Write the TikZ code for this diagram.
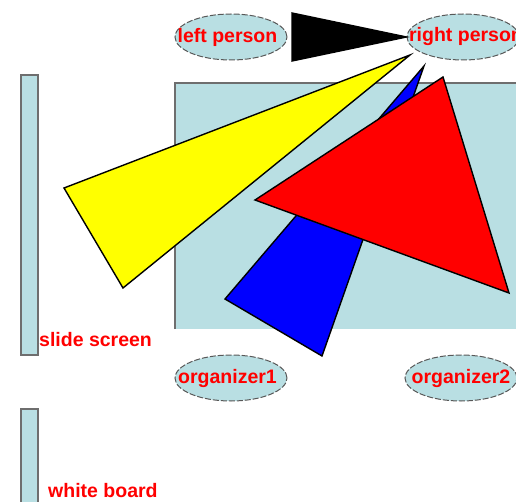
\documentclass[tikz,border=0pt]{standalone}
\usepackage{fontspec}
\setmainfont{Liberation Sans}
\usetikzlibrary{shapes.geometric}
\definecolor{tbl}{HTML}{B9DFE3}
\definecolor{rim}{HTML}{6E6E6E}
\definecolor{txt}{HTML}{FF0000}
\definecolor{ylw}{HTML}{FFFF00}
\begin{document}
\begin{tikzpicture}[x=1pt,y=-1pt,
 p/.style={ellipse,draw=rim!80!black,dashed,dash pattern=on 6pt off 2pt,line width=1pt,fill=tbl,
  minimum width=112pt,minimum height=46pt,inner sep=0pt,text=txt,font=\bfseries\fontsize{19.5}{20}\selectfont},
 lbl/.style={anchor=west,inner sep=0pt,text=txt,font=\bfseries\fontsize{19.5}{20}\selectfont},
 board/.style={draw=rim,line width=1.2pt,fill=tbl,minimum width=17pt,inner sep=0pt},
 beam/.style={draw=black,line width=1.4pt,line join=miter}]
\clip (0,0) rectangle (516,502);
\fill[white] (0,0) rectangle (516,502);
% room furniture
\node[fill=tbl,minimum width=355pt,minimum height=246pt,inner sep=0pt] (table) at (352.5,206) {};
\draw[rim,line width=1.6pt] (table.south west) -- (table.north west) -- (table.north east);
\node[board,minimum height=280pt] (screen) at (29.5,215) {};
\node[board,minimum height=110pt] (wboard) at (29.5,464) {};
\node[lbl] (screenlbl) at (39,340) {slide screen};
\node[lbl] (wboardlbl) at (48,491) {white board};
% people
\node[p] (lp) at (231,37) {\makebox[0pt]{\raisebox{-2pt}{left person}\hspace{7pt}}};
\node[p] (rp) at (463,37) {\makebox[0pt]{\raisebox{-2pt}{\hspace{6pt}right person}}};
\node[p] (o1) at (231,378) {\makebox[0pt]{\raisebox{-1pt}{organizer1}\hspace{7pt}}};
\node[p] (o2) at (461,378) {\makebox[0pt]{\raisebox{-1pt}{organizer2}}};
% gaze cones
\filldraw[beam,fill=black] (292,13) -- (292,61) -- (rp.west) -- cycle;
\filldraw[beam,fill=ylw] (410,55) -- (64,188) -- (123,288) -- cycle;
\filldraw[beam,fill=blue] (424,66) -- (225,299) -- (322,356) -- cycle;
\filldraw[beam,fill=red] (443,77) -- (255,200) -- (509,293) -- cycle;
\end{tikzpicture}
\end{document}
